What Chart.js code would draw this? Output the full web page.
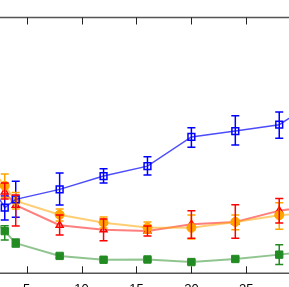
<!DOCTYPE html>
<html>
<head>
<meta charset="utf-8">
<script src="https://cdn.jsdelivr.net/npm/chart.js@4/dist/chart.umd.min.js"></script>
<style>
  html, body { margin: 0; padding: 0; background: #fff; overflow: hidden; }
  #wrap { width: 289px; height: 300px; }
</style>
</head>
<body>
<div id="wrap"><canvas id="chart" width="289" height="300"></canvas></div>
<script>
// x positions (the first and last lie just outside the visible window)
const xs = [2, 3, 4, 8, 12, 16, 20, 24, 28, 32];
const xTicks = [5, 10, 15, 20, 25];

// blue, open squares
const blueVals = [32.6, 25.7, 28.9, 32.8, 38.0, 41.9, 53.3, 55.6, 58.1, 69.3];
const blueLo   = [29.0, 20.8, 21.9, 26.7, 35.3, 38.4, 49.3, 50.2, 52.8, 64.0];
const blueHi   = [36.0, 30.2, 36.0, 39.2, 40.9, 45.6, 56.9, 61.6, 63.1, 74.0];

// orange, filled circles
const orangeVals = [39.6, 34.2, 28.3, 22.9, 19.8, 17.9, 17.8, 20.1, 22.7, 24.0];
const orangeLo   = [36.0, 29.6, 25.1, 20.4, 17.7, 15.8, 13.4, 17.0, 17.2, 21.0];
const orangeHi   = [43.0, 38.8, 31.6, 25.1, 22.0, 20.1, 22.8, 22.8, 27.6, 27.0];

// red, open triangles
const redVals = [38.4, 31.8, 26.6, 18.8, 17.0, 16.5, 19.2, 20.1, 24.5, 26.7];
const redLo   = [35.0, 29.0, 18.5, 15.0, 12.7, 14.6, 13.7, 13.7, 19.7, 23.0];
const redHi   = [42.0, 35.3, 30.6, 22.8, 21.2, 18.5, 24.5, 26.8, 29.2, 30.0];

// green, filled squares
const greenVals = [20.8, 16.5, 11.8, 6.8, 5.3, 5.4, 4.4, 5.6, 7.3, 9.1];
const greenLo   = [18.0, 13.0, 10.3, 6.0, 4.6, 4.7, 3.7, 4.9, 3.4, 6.0];
const greenHi   = [23.5, 18.6, 13.4, 7.6, 6.0, 6.1, 5.1, 6.3, 11.2, 12.0];

const pts = vals => xs.map((x, i) => ({ x: x, y: vals[i] }));

// error bars + framed axes with inward ticks
const errorBars = {
  id: 'errorBars',
  afterDatasetsDraw(chart) {
    const ctx = chart.ctx;
    const xS = chart.scales.x, yS = chart.scales.y;
    const area = chart.chartArea;
    ctx.save();
    ctx.beginPath();
    ctx.rect(area.left, area.top - 2, area.right - area.left, area.bottom - area.top + 4);
    ctx.clip();
    chart.data.datasets.forEach(ds => {
      ctx.strokeStyle = ds.errColor;
      ctx.lineWidth = 1.5;
      ds.data.forEach((p, i) => {
        const px = xS.getPixelForValue(p.x);
        const y1 = yS.getPixelForValue(ds.lo[i]);
        const y2 = yS.getPixelForValue(ds.hi[i]);
        ctx.beginPath();
        ctx.moveTo(px, y1); ctx.lineTo(px, y2);
        ctx.moveTo(px - 4, y1); ctx.lineTo(px + 4, y1);
        ctx.moveTo(px - 4, y2); ctx.lineTo(px + 4, y2);
        ctx.stroke();
      });
    });
    ctx.restore();

    ctx.save();
    ctx.strokeStyle = '#555';
    ctx.lineWidth = 1.5;
    ctx.beginPath();
    ctx.moveTo(area.left, area.top); ctx.lineTo(area.right, area.top);
    ctx.moveTo(area.left, area.bottom); ctx.lineTo(area.right, area.bottom);
    ctx.stroke();
    ctx.strokeStyle = '#222';
    ctx.lineWidth = 1;
    xTicks.forEach(v => {
      const px = Math.round(xS.getPixelForValue(v)) + 0.5;
      ctx.beginPath();
      ctx.moveTo(px, area.top); ctx.lineTo(px, area.top + 7);
      ctx.moveTo(px, area.bottom); ctx.lineTo(px, area.bottom - 7);
      ctx.stroke();
    });
    ctx.restore();
  }
};

new Chart(document.getElementById('chart'), {
  type: 'line',
  data: {
    datasets: [
      {
        data: pts(blueVals), lo: blueLo, hi: blueHi, errColor: '#0000ff',
        borderColor: 'rgba(0,0,255,0.7)', borderWidth: 1.5,
        pointStyle: 'rect', pointRadius: 4.8, pointBorderWidth: 1.5,
        pointBorderColor: '#0000ff', pointBackgroundColor: 'rgba(0,0,0,0)',
        order: 0
      },
      {
        data: pts(orangeVals), lo: orangeLo, hi: orangeHi, errColor: '#ffa500',
        borderColor: 'rgba(255,165,0,0.55)', borderWidth: 2,
        pointStyle: 'circle', pointRadius: 4.5, pointBorderWidth: 1,
        pointBorderColor: '#ffa500', pointBackgroundColor: '#ffa500',
        order: 1
      },
      {
        data: pts(redVals), lo: redLo, hi: redHi, errColor: '#ff0000',
        borderColor: 'rgba(255,0,0,0.5)', borderWidth: 2,
        pointStyle: 'triangle', pointRadius: 4, pointBorderWidth: 1.5,
        pointBorderColor: '#ff0000', pointBackgroundColor: 'rgba(0,0,0,0)',
        order: 2
      },
      {
        data: pts(greenVals), lo: greenLo, hi: greenHi, errColor: '#228b22',
        borderColor: 'rgba(34,139,34,0.5)', borderWidth: 2,
        pointStyle: 'rect', pointRadius: 5.2, pointBorderWidth: 1,
        pointBorderColor: '#228b22', pointBackgroundColor: '#228b22',
        order: 3
      }
    ]
  },
  options: {
    responsive: false,
    animation: false,
    devicePixelRatio: 1,
    layout: { autoPadding: false, padding: { top: 17.5, left: 0, right: 0, bottom: 0 } },
    plugins: { legend: { display: false }, tooltip: { enabled: false } },
    scales: {
      x: {
        type: 'linear',
        min: 2.568,
        max: 28.89,
        afterBuildTicks: s => { s.ticks = xTicks.map(v => ({ value: v })); },
        afterFit: s => { s.height = 26.7; s.paddingLeft = 0; s.paddingRight = 0; },
        grid: { display: false },
        border: { display: false },
        ticks: { padding: 0, color: '#000', maxRotation: 0, autoSkip: false,
                 font: { family: 'Liberation Sans', size: 13 } }
      },
      y: { display: false, min: 0, max: 100 }
    }
  },
  plugins: [errorBars]
});
</script>
</body>
</html>
